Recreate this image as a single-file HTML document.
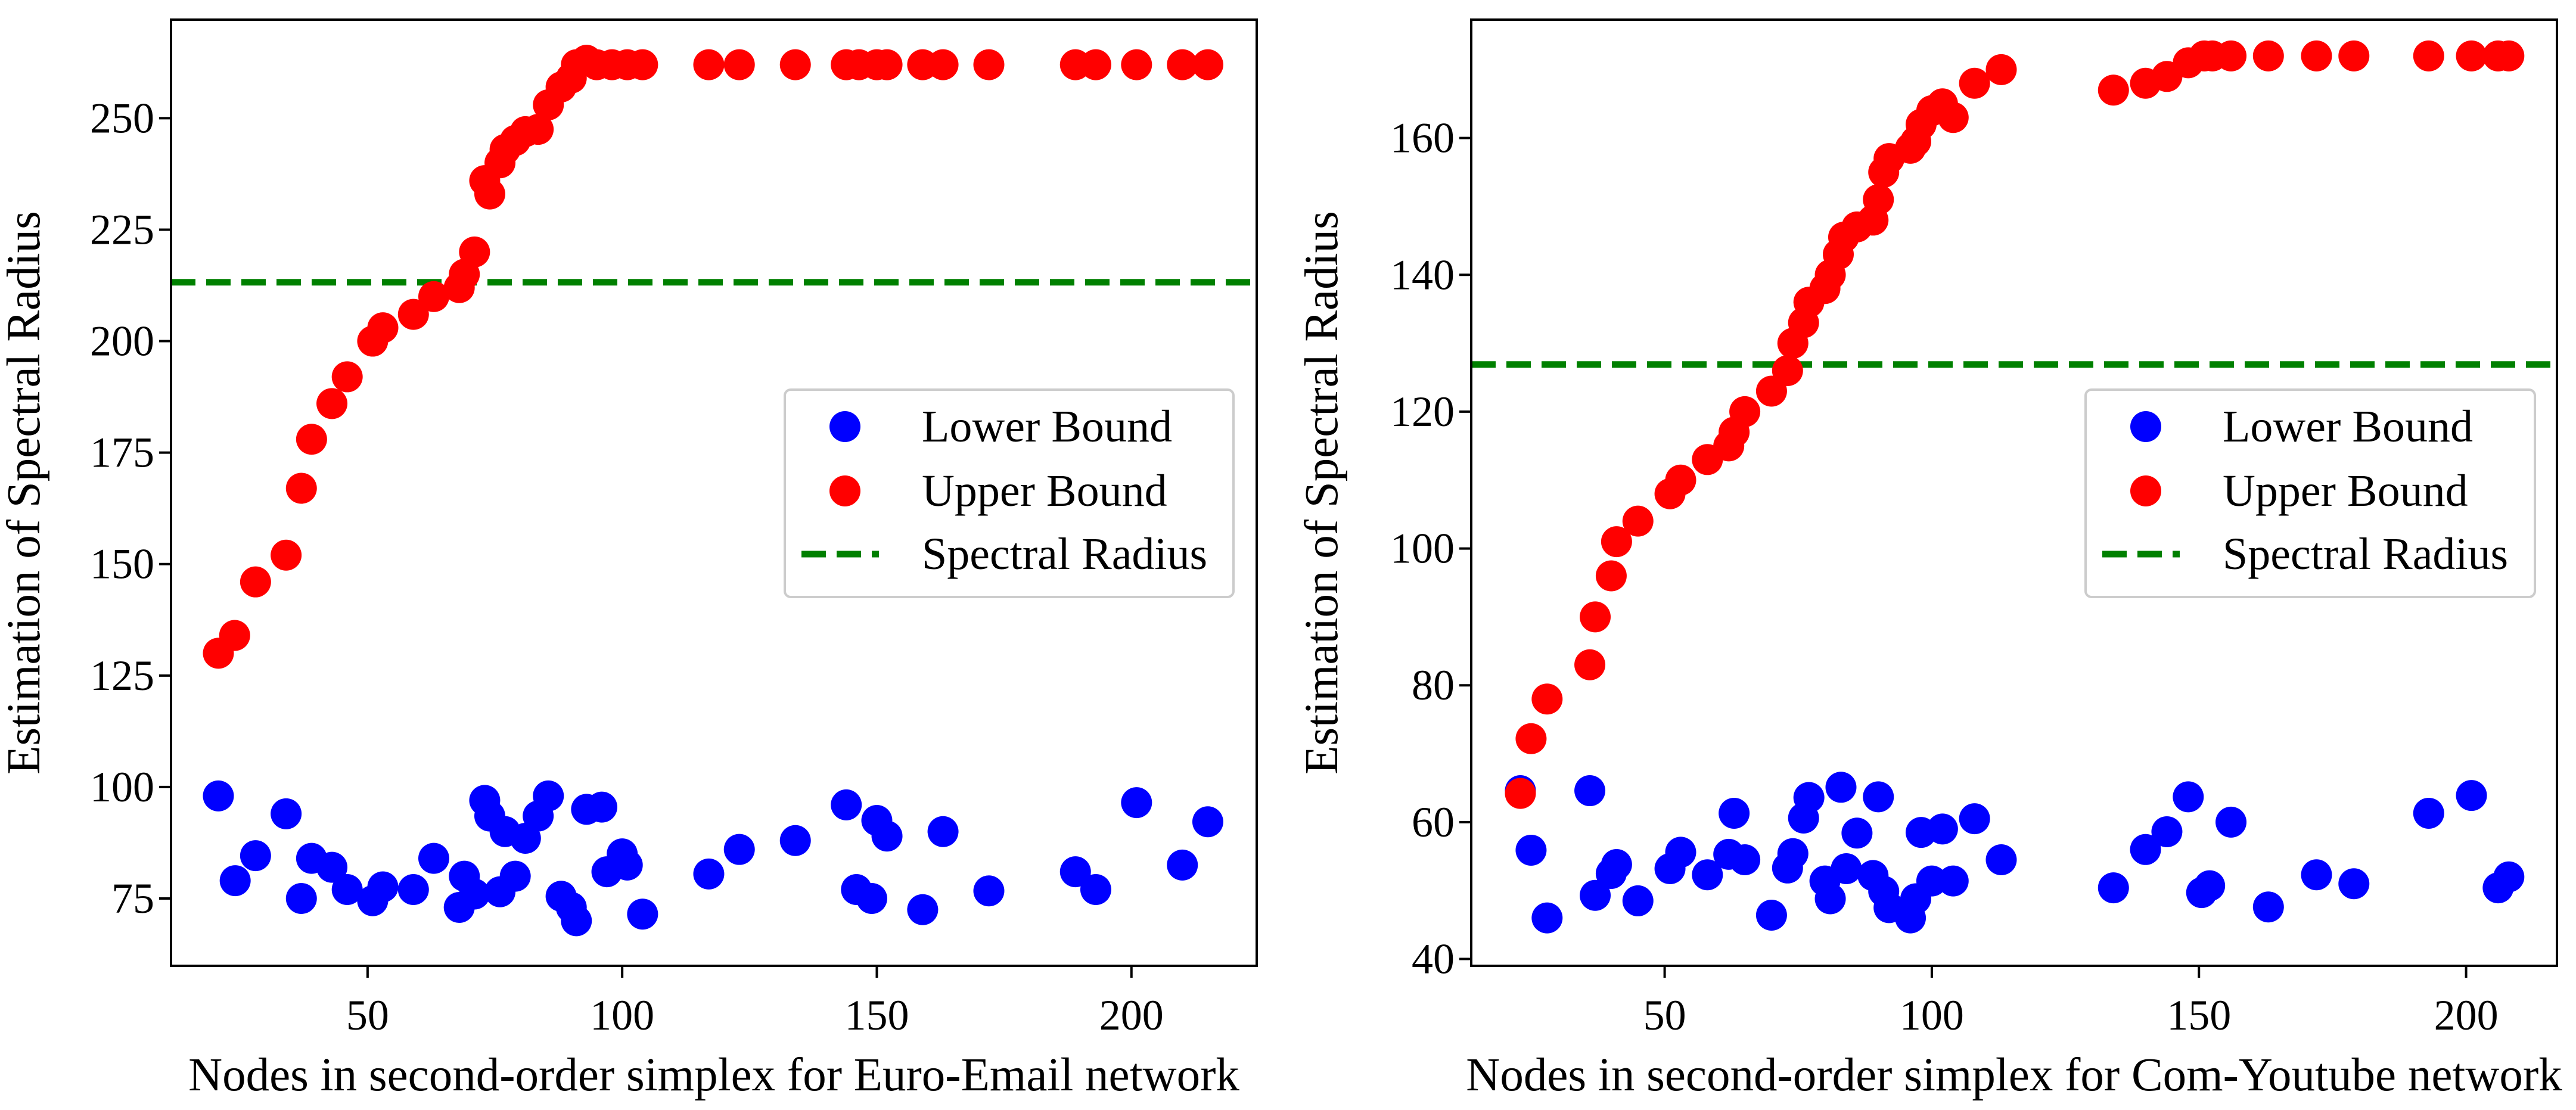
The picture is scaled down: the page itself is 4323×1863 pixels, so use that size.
<!DOCTYPE html>
<html><head><meta charset="utf-8"><style>
html,body{margin:0;padding:0;background:#fff;}
svg{display:block;}
text{font-family:"Liberation Serif",serif;fill:#000;}
</style></head><body>
<svg id="chart" width="4323" height="1863" viewBox="0 0 4323 1863" xmlns="http://www.w3.org/2000/svg"></svg>
<script>
// ---- Euro-Email panel data ----
const euroUpperX = [20.7,23.9,28,34,37,39,43,46,51,53,59,63,68,69,71,73,74,76,77,79,81,83.5,85.5,88,90,91,93,95,98,101,104,117,123,134,144,146.5,150,152,159,163,172,189,193,201,210,215];
const euroUpperY = [130,134,146,152,167,178,186,192,200,203,206,210,212,215,220,236,233,240,243,245,247,247.5,253,257,259,262,263,262,262,262,262,262,262,262,262,262,262,262,262,262,262,262,262,262,262,262];
const euroLowerX = [20.7,24,28,34,37,39,43,46,51,53,59,63,68,69,71,73,74,76,77,79,81,83.5,85.5,88,90,91,93,96,97,100,101,104,117,123,134,144,146,150,149,152,159,163,172,189,193,201,210,215];
const euroLowerY = [98,79,84.6,94,75,84,82,77,74.5,77.6,77,84,73,80,76,97,93.5,76.5,90,80,88.5,93.5,98,75.5,73,70,95,95.5,81,85,82.5,71.5,80.5,86,88,96,77,92.5,75,89,72.5,90,76.7,81,77,96.5,82.5,92.2];
const euroSpectral = 213.2;
const euroXTicks = [50,100,150,200];
const euroYTicks = [75,100,125,150,175,200,225,250];
// ---- Com-Youtube panel data ----
const ytUpperX = [23,25,28,36,37,40,41,45,51,53,58,62,63,65,70,73,74,76,77,80,81,82.5,83.5,86,89,90,91,92,96,97,98,100,102,104,108,113,134,140,144,148,151,152.5,156,163,172,179,193,201,206,208];
const ytUpperY = [64.2,72.2,78,83,90,96,101,104,108,110,113,115,117,120,123,126,130,133,136,138,140,143,145.5,147,148,151,155,157,158.5,159.5,162,164,165,163,168,170,167,168,169,171,172,172,172,172,172,172,172,172,172,172];
const ytLowerX = [23,25,28,36,37,40,41,45,51,53,58,62,63,65,70,73,74,76,77,80,81,83,84,86,89,90,91,92,96,97,98,100,102,104,108,113,134,140,144,148,150.5,152,156,163,172,179,193,201,206,208];
const ytLowerY = [64.6,55.9,46,64.6,49.3,52.5,53.8,48.5,53.2,55.6,52.3,55.3,61.3,54.5,46.4,53.3,55.4,60.6,63.6,51.4,48.8,65.1,53.2,58.4,52.2,63.7,49.9,47.5,46,48.8,58.5,51.4,59,51.4,60.5,54.5,50.4,56,58.6,63.7,49.7,50.7,60,47.6,52.3,51,61.3,63.9,50.4,52];
const ytSpectral = 126.9;
const ytXTicks = [50,100,150,200];
const ytYTicks = [40,60,80,100,120,140,160];

const NS = "http://www.w3.org/2000/svg";
const svg = document.getElementById('chart');
function el(tag, attrs, parent){
  const e = document.createElementNS(NS, tag);
  for (const k in attrs) e.setAttribute(k, attrs[k]);
  (parent||svg).appendChild(e);
  return e;
}
function panel(cfg){
  const g = el('g', {});
  
  
  const L=cfg.left,R=cfg.right,T=33,B=1621;
  const sx = v => L + (v-cfg.xmin)/(cfg.xmax-cfg.xmin)*(R-L);
  const sy = v => B - (v-cfg.ymin)/(cfg.ymax-cfg.ymin)*(B-T);
  const clip = el('clipPath', {id: cfg.name+'-clip'}, g);
  el('rect', {x:L, y:T, width:R-L, height:B-T}, clip);
  const plot = el('g', {'clip-path':'url(#'+cfg.name+'-clip)'}, g);
  const line = el('line', {x1:L, x2:R, y1:sy(cfg.spec), y2:sy(cfg.spec), stroke:'#008000', 'stroke-width':11, 'stroke-dasharray':'41 18'}, plot);
  
  
  cfg.lx.forEach((x,i)=>{
    const c = el('circle', {cx:sx(x), cy:sy(cfg.ly[i]), r:26, fill:'#0000ff'}, plot);
    
    
  });
  cfg.ux.forEach((x,i)=>{
    const c = el('circle', {cx:sx(x), cy:sy(cfg.uy[i]), r:26, fill:'#ff0000'}, plot);
    
    
  });
  const frame = el('rect', {x:L, y:T, width:R-L, height:B-T, fill:'none', stroke:'#000', 'stroke-width':4}, g);
  
  
  cfg.xt.forEach(v=>{
    el('line', {x1:sx(v), x2:sx(v), y1:B, y2:B+20, stroke:'#000', 'stroke-width':4}, g);
    const t = el('text', {x:sx(v), y:1728, 'font-size':72, 'text-anchor':'middle'}, g);
    t.textContent = v;
    
    
  });
  cfg.yt.forEach(v=>{
    el('line', {x1:L-20, x2:L, y1:sy(v), y2:sy(v), stroke:'#000', 'stroke-width':4}, g);
    const t = el('text', {x:L-28, y:sy(v)+24, 'font-size':72, 'text-anchor':'end'}, g);
    t.textContent = v;
    
    
  });
  const xl = el('text', {x:(L+R)/2, y:1830, 'font-size':79, 'text-anchor':'middle'}, g);
  xl.textContent = cfg.xlabel;
  
  
  const yl = el('text', {x:0, y:0, 'font-size':79, 'text-anchor':'middle', transform:'translate('+cfg.ylx+',827) rotate(-90)'}, g);
  yl.textContent = 'Estimation of Spectral Radius';
  
  
  const lg = el('g', {}, g);
  
  
  const lx = cfg.legX, lw = cfg.legW;
  el('rect', {x:lx, y:654, width:lw, height:348, rx:10, fill:'#fff', stroke:'#cccccc', 'stroke-width':4}, lg);
  const rows = [['Lower Bound','#0000ff','dot',716],['Upper Bound','#ff0000','dot',824],['Spectral Radius','#008000','line',930]];
  rows.forEach(r=>{
    if (r[2]==='dot') el('circle', {cx:lx+101, cy:r[3], r:26, fill:r[1]}, lg);
    else el('line', {x1:lx+28, x2:lx+158, y1:r[3], y2:r[3], stroke:r[1], 'stroke-width':11, 'stroke-dasharray':'41 18'}, lg);
    const t = el('text', {x:lx+230, y:r[3]+25, 'font-size':76}, lg);
    t.textContent = r[0];
    
    
  });
}
panel({name:'euro-email-panel', left:287, right:2109, xmin:11.4, xmax:224.6, ymin:59.9, ymax:272.1,
  ux:euroUpperX, uy:euroUpperY, lx:euroLowerX, ly:euroLowerY, spec:euroSpectral, xt:euroXTicks, yt:euroYTicks,
  xlabel:'Nodes in second-order simplex for Euro-Email network', ylx:66, legX:1317, legW:753});
panel({name:'com-youtube-panel', left:2469, right:4291, xmin:13.8, xmax:217, ymin:39.0, ymax:177.3,
  ux:ytUpperX, uy:ytUpperY, lx:ytLowerX, ly:ytLowerY, spec:ytSpectral, xt:ytXTicks, yt:ytYTicks,
  xlabel:'Nodes in second-order simplex for Com-Youtube network', ylx:2244, legX:3500, legW:754});
</script>
</body></html>
